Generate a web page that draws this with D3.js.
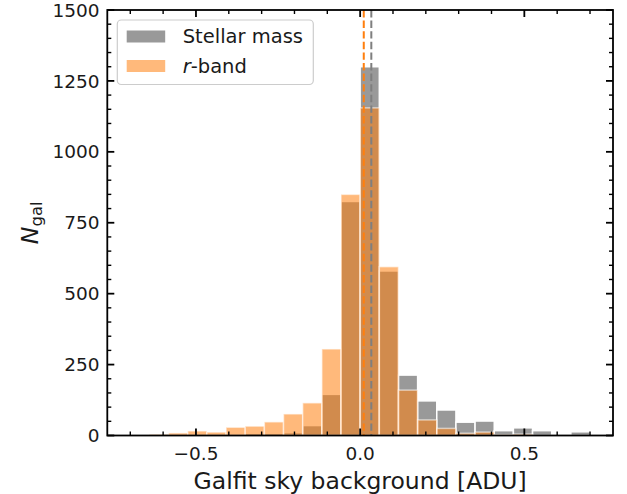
<!DOCTYPE html>
<html>
<head>
<meta charset="utf-8">
<script src="https://cdn.jsdelivr.net/npm/d3@7"></script>
<style>
  html, body { margin: 0; padding: 0; background: #ffffff; }
  svg { display: block; font-family: "DejaVu Sans", sans-serif; }
</style>
</head>
<body>
<svg id="chart" width="627" height="494"></svg>
<script>
// ---- data ----
const binRange = [-0.7, 0.7];
const nBins = 24;
const stellarCounts = [0, 0, 0, 3, 0, 5, 8, 8, 10, 35, 145, 825, 1300, 580, 213, 122, 90, 47, 51, 17, 27, 17, 0, 13];
const rbandCounts   = [0, 4, 9, 16, 12, 29, 33, 48, 76, 115, 305, 850, 1155, 595, 160, 55, 25, 8, 12, 3, 5, 0, 0, 0];
const medianStellar = 0.034;
const medianRband = 0.011;
const xTickValues = [-0.5, 0.0, 0.5];
const xMinorTicks = [-0.7, -0.6, -0.5, -0.4, -0.3, -0.2, -0.1, 0.0, 0.1, 0.2, 0.3, 0.4, 0.5, 0.6, 0.7];
const yTickValues = [0, 250, 500, 750, 1000, 1250, 1500];
const yMinorTicks = d3.range(0, 1501, 50);
const seriesNames = ["Stellar mass", "r-band"];

// ---- layout ----
const svg = d3.select("#chart");
const L = 107.3, R = 613, T = 10, B = 435.5;
const x = d3.scaleLinear().domain([-0.77, 0.77]).range([L, R]);
const y = d3.scaleLinear().domain([0, 1500]).range([B, T]);

const binW = (binRange[1] - binRange[0]) / nBins;
const edges = d3.range(nBins).map(i => binRange[0] + i * binW);

const grayFill = "#999999";
const orange = "#ff7f0e";
const orangeAlpha = 0.55;

const plot = svg.append("g");

// gray bars
plot.append("g").selectAll("rect").data(stellarCounts.map((c, i) => ({c, x0: edges[i]})))
  .join("rect")
  .filter(d => d.c > 0)
  .attr("x", d => x(d.x0))
  .attr("width", d => x(d.x0 + binW) - x(d.x0))
  .attr("y", d => y(d.c))
  .attr("height", d => y(0) - y(d.c))
  .attr("fill", grayFill)
  .attr("stroke", "#ffffff")
  .attr("stroke-width", 1.5);

// orange bars
plot.append("g").selectAll("rect").data(rbandCounts.map((c, i) => ({c, x0: edges[i]})))
  .join("rect")
  .filter(d => d.c > 0)
  .attr("x", d => x(d.x0))
  .attr("width", d => x(d.x0 + binW) - x(d.x0))
  .attr("y", d => y(d.c))
  .attr("height", d => y(0) - y(d.c))
  .attr("fill", orange)
  .attr("fill-opacity", orangeAlpha)
  .attr("stroke", "#ffffff")
  .attr("stroke-opacity", orangeAlpha)
  .attr("stroke-width", 1.5);

// median lines
[[medianRband, orange], [medianStellar, "#7f7f7f"]].forEach(([v, c]) => {
  plot.append("line")
    .attr("x1", x(v)).attr("x2", x(v))
    .attr("y1", T).attr("y2", B)
    .attr("stroke", c)
    .attr("stroke-width", 2)
    .attr("stroke-dasharray", "7.4,3.2");
});

// ---- axes (ticks inside, on all sides) ----
const tickCol = "#000000";
const majLen = 7, minLen = 4;
const axG = svg.append("g");
function tick(x1, y1, x2, y2, w) {
  axG.append("line").attr("x1", x1).attr("y1", y1).attr("x2", x2).attr("y2", y2)
    .attr("stroke", tickCol).attr("stroke-width", w);
}
xMinorTicks.forEach(v => {
  const major = xTickValues.some(t => Math.abs(t - v) < 1e-9);
  const len = major ? majLen : minLen;
  const w = major ? 1.8 : 1.4;
  tick(x(v), B, x(v), B - len, w);
  tick(x(v), T, x(v), T + len, w);
});
yMinorTicks.forEach(v => {
  const major = yTickValues.includes(v);
  const len = major ? majLen : minLen;
  const w = major ? 1.8 : 1.4;
  tick(L, y(v), L + len, y(v), w);
  tick(R, y(v), R - len, y(v), w);
});

// spines
axG.append("rect").attr("x", L).attr("y", T).attr("width", R - L).attr("height", B - T)
  .attr("fill", "none").attr("stroke", "#000").attr("stroke-width", 1.8);

// tick labels
const fmtX = v => (v < 0 ? "\u2212" : "") + Math.abs(v).toFixed(1);
svg.append("g").selectAll("text").data(xTickValues).join("text")
  .attr("x", d => x(d))
  .attr("y", 459.5)
  .attr("text-anchor", "middle")
  .attr("font-size", 18.5)
  .attr("fill", "#1a1a1a")
  .text(fmtX);

svg.append("g").selectAll("text").data(yTickValues).join("text")
  .attr("x", 99.5)
  .attr("y", d => y(d))
  .attr("dy", "0.36em")
  .attr("text-anchor", "end")
  .attr("font-size", 18.5)
  .attr("fill", "#1a1a1a")
  .text(d => String(d));

// axis labels
svg.append("text")
  .attr("x", (L + R) / 2)
  .attr("y", 488.5)
  .attr("text-anchor", "middle")
  .attr("font-size", 23.5)
  .attr("fill", "#1a1a1a")
  .text("Galfit sky background [ADU]");

const yl = svg.append("text")
  .attr("transform", `translate(38,${(T + B) / 2}) rotate(-90)`)
  .attr("text-anchor", "middle")
  .attr("font-size", 23.5)
  .attr("fill", "#1a1a1a");
yl.append("tspan").attr("font-style", "italic").text("N");
yl.append("tspan").attr("font-size", 16.5).attr("dy", 4).text("gal");

// ---- legend ----
const lg = svg.append("g");
lg.append("rect")
  .attr("x", 117.3).attr("y", 20).attr("width", 196).attr("height", 64.5)
  .attr("rx", 4).attr("ry", 4)
  .attr("fill", "#ffffff").attr("fill-opacity", 0.8)
  .attr("stroke", "#cccccc").attr("stroke-width", 1.2);
const legendItems = [
  {name: seriesNames[0], fill: grayFill, op: 1, yc: 36.5},
  {name: seriesNames[1], fill: orange, op: orangeAlpha, yc: 66}
];
legendItems.forEach(it => {
  lg.append("rect")
    .attr("x", 126.7).attr("y", it.yc - 6).attr("width", 38.5).attr("height", 12)
    .attr("fill", it.fill).attr("fill-opacity", it.op);
});
lg.append("text").attr("x", 182.7).attr("y", 43.3).attr("font-size", 19.5).attr("fill", "#1a1a1a")
  .text(seriesNames[0]);
const rt = lg.append("text").attr("x", 182.7).attr("y", 72.8).attr("font-size", 19.5).attr("fill", "#1a1a1a");
rt.append("tspan").attr("font-style", "italic").text("r");
rt.append("tspan").text("-band");
</script>
</body>
</html>
